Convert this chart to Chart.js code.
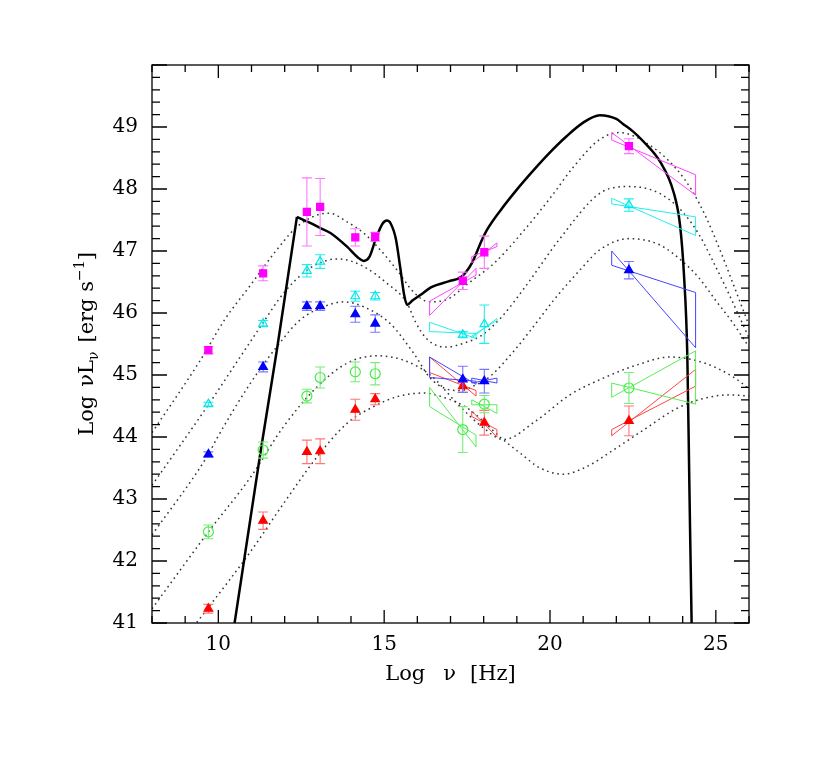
<!DOCTYPE html>
<html><head><meta charset="utf-8">
<script src="https://cdn.jsdelivr.net/npm/chart.js@4.4.1/dist/chart.umd.min.js"></script>
<style>html,body{margin:0;padding:0;background:#fff;}</style>
</head><body>
<canvas id="c" width="817" height="763" style="width:817px;height:763px;display:block"></canvas>
<script>
// ---------- data ----------
const xTickLabels = [10, 15, 20, 25];
const yTickLabels = [41, 42, 43, 44, 45, 46, 47, 48, 49];

const xPts = [9.7, 11.35, 12.67, 13.07, 14.13, 14.73, 17.37, 18.02, 22.38];
const magentaY   = [45.40, 46.64, 47.63, 47.71, 47.22, 47.23, 46.52, 46.98, 48.69];
const magentaErr = [0.06, 0.12, 0.55, 0.46, 0.14, 0.07, 0.14, 0.26, 0.12];
const cyanY      = [44.53, 45.83, 46.68, 46.83, 46.27, 46.27, 45.65, 45.82, 47.74];
const cyanErr    = [0.03, 0.05, 0.10, 0.11, 0.08, 0.06, 0.05, 0.31, 0.10];
const blueY      = [43.72, 45.13, 46.11, 46.11, 45.98, 45.83, 44.93, 44.90, 46.69];
const blueErr    = [0.04, 0.08, 0.07, 0.07, 0.13, 0.14, 0.21, 0.19, 0.14];
const greenY     = [42.47, 43.79, 44.66, 44.96, 45.05, 45.02, 44.12, 44.53, 44.79];
const greenErr   = [0.11, 0.13, 0.11, 0.17, 0.16, 0.18, 0.37, 0.14, 0.25];
const redY       = [41.23, 42.65, 43.76, 43.77, 44.44, 44.61, 44.82, 44.23, 44.26];
const redErr     = [0.07, 0.14, 0.19, 0.20, 0.17, 0.09, 0.10, 0.20, 0.24];

// bow-ties: x ranges, and [leftTop, leftBottom, rightTop, rightBottom]
const bowX = [[16.37, 17.77], [17.64, 18.40], [21.86, 24.39]];
const magentaBow = [[46.19, 45.96, 46.72, 46.61], [46.91, 46.81, 47.13, 47.07], [48.91, 48.79, 48.23, 47.90]];
const cyanBow    = [[45.85, 45.70, 45.67, 45.59], [45.63, 45.60, 45.91, 45.88], [47.85, 47.76, 47.55, 47.25]];
const blueBow    = [[45.29, 44.96, 44.90, 44.85], [44.95, 44.87, 44.95, 44.87], [47.00, 46.77, 46.33, 45.44]];
const greenBow   = [[44.80, 44.49, 44.03, 43.84], [44.60, 44.52, 44.52, 44.38], [44.87, 44.64, 45.39, 44.53]];
const redBow     = [[45.29, 45.04, 44.75, 44.66], [44.42, 44.33, 44.12, 44.00], [44.12, 44.02, 45.09, 44.82]];

// model curves (dotted)
const magentaCurveX = [8.0, 9.46, 10.2, 10.97, 11.72, 12.37, 12.98, 13.35, 13.88, 14.38, 14.88, 15.39, 15.9, 16.35, 16.9, 17.54, 18.35, 19.15, 20.0, 20.7, 21.5, 22.1, 23.0, 23.8, 24.3, 24.7, 25.1, 25.5, 26.0];
const magentaCurveY = [44.07, 45.24, 45.90, 46.45, 46.99, 47.39, 47.58, 47.61, 47.47, 47.29, 47.02, 46.69, 46.33, 46.18, 46.22, 46.48, 46.82, 47.29, 47.85, 48.35, 48.80, 48.91, 48.71, 48.33, 47.96, 47.55, 47.05, 46.50, 45.80];
const cyanCurveX = [8.0, 9.7, 10.67, 11.27, 11.97, 12.67, 13.28, 13.65, 14.38, 15.08, 15.69, 15.95, 16.29, 16.84, 17.44, 17.94, 18.55, 19.25, 20.3, 21.5, 22.4, 23.3, 24.0, 24.5, 24.9, 25.4, 26.0];
const cyanCurveY = [43.22, 44.52, 45.30, 45.78, 46.32, 46.69, 46.85, 46.87, 46.75, 46.48, 46.16, 45.85, 45.58, 45.45, 45.52, 45.64, 45.94, 46.42, 47.20, 47.93, 48.04, 47.93, 47.63, 47.26, 46.85, 46.30, 45.60];
const blueCurveX = [8.0, 9.7, 9.96, 10.97, 11.77, 12.47, 13.17, 13.78, 14.38, 15.18, 15.89, 16.39, 16.85, 17.3, 17.8, 18.2, 18.9, 19.6, 20.1, 21.0, 21.5, 22.4, 23.3, 24.0, 24.5, 25.0, 25.5, 26.0];
const blueCurveY = [42.42, 43.72, 43.98, 44.87, 45.46, 45.89, 46.10, 46.18, 46.10, 45.83, 45.35, 44.95, 44.78, 44.75, 44.85, 44.98, 45.38, 45.85, 46.20, 46.75, 47.02, 47.20, 47.10, 46.83, 46.56, 46.20, 45.85, 45.45];
const greenCurveX = [8.0, 9.7, 10.97, 11.97, 12.98, 13.88, 14.78, 15.58, 16.39, 17.24, 17.94, 18.6, 19.6, 20.6, 21.61, 22.61, 23.62, 24.62, 25.52, 26.0];
const greenCurveY = [41.23, 42.47, 43.35, 44.17, 44.81, 45.19, 45.31, 45.24, 45.00, 44.52, 44.17, 43.96, 44.27, 44.68, 44.95, 45.16, 45.29, 45.20, 44.97, 44.78];
const redCurveX = [9.25, 9.7, 10.97, 11.97, 12.98, 13.88, 14.68, 15.39, 16.2, 16.9, 17.44, 18.0, 18.45, 19.1, 19.7, 20.4, 21.1, 21.91, 22.81, 23.82, 24.62, 25.43, 26.0];
const redCurveY = [40.94, 41.25, 42.15, 42.93, 43.68, 44.22, 44.49, 44.65, 44.71, 44.62, 44.49, 44.25, 44.02, 43.74, 43.50, 43.40, 43.52, 43.79, 44.11, 44.46, 44.62, 44.68, 44.66];

// black solid model (rising edge, then the rest)
const blackRiseX = [10.45, 10.49, 11.27, 11.77, 12.37];
const blackRiseY = [40.85, 41.00, 43.75, 45.42, 47.55];
const blackCurveX = [12.37, 12.7, 13.08, 13.38, 13.88, 14.2, 14.38, 14.55, 14.75, 14.95, 15.08, 15.2, 15.35, 15.48, 15.6, 15.69, 15.85, 16.09, 16.44, 16.94, 17.34, 17.64, 17.95, 18.1, 18.5, 19.0, 19.5, 20.0, 20.5, 21.0, 21.5, 22.0, 22.2, 22.5, 22.81, 23.32, 23.72, 23.92, 24.04, 24.14, 24.2, 24.27, 24.28];
const blackCurveY = [47.55, 47.47, 47.37, 47.29, 47.07, 46.90, 46.84, 46.90, 47.20, 47.44, 47.49, 47.44, 47.20, 46.75, 46.30, 46.13, 46.20, 46.29, 46.42, 46.51, 46.59, 46.80, 47.18, 47.34, 47.65, 47.99, 48.30, 48.59, 48.85, 49.07, 49.19, 49.13, 49.05, 48.93, 48.77, 48.44, 47.96, 47.42, 46.61, 45.32, 43.30, 41.00, 40.80];

// ---------- build datasets ----------
const zipXY = (xs, ys) => xs.map((x, i) => ({x, y: ys[i]}));
const FONT = '"DejaVu Serif", "Liberation Serif", serif';

const series = [
  {y: magentaY, err: magentaErr, bow: magentaBow, curveX: magentaCurveX, curveY: magentaCurveY,
   style: 'rect', fill: '#ff00ff', stroke: '#ff00ff', errColor: '#ff77ff', bowColor: '#ff44ff', r: 5},
  {y: cyanY, err: cyanErr, bow: cyanBow, curveX: cyanCurveX, curveY: cyanCurveY,
   style: 'triangle', fill: 'rgba(0,0,0,0)', stroke: '#00e8e8', errColor: '#22eeee', bowColor: '#22eeee', r: 5},
  {y: blueY, err: blueErr, bow: blueBow, curveX: blueCurveX, curveY: blueCurveY,
   style: 'triangle', fill: '#0000ff', stroke: '#0000ff', errColor: '#7777ff', bowColor: '#4444ff', r: 5},
  {y: greenY, err: greenErr, bow: greenBow, curveX: greenCurveX, curveY: greenCurveY,
   style: 'circle', fill: 'rgba(0,0,0,0)', stroke: '#44ee44', errColor: '#77ee77', bowColor: '#55ee55', r: 5},
  {y: redY, err: redErr, bow: redBow, curveX: redCurveX, curveY: redCurveY,
   style: 'triangle', fill: '#ff0000', stroke: '#ff0000', errColor: '#ff7777', bowColor: '#ff4444', r: 5}
];

const datasets = [];
series.forEach(s => {
  datasets.push({
    data: zipXY(s.curveX, s.curveY), showLine: true, pointRadius: 0,
    borderColor: '#333', borderWidth: 1.5, borderDash: [1.6, 3.7],
    cubicInterpolationMode: 'monotone', order: 6
  });
});
datasets.push({
  data: zipXY(blackRiseX, blackRiseY), showLine: true, pointRadius: 0,
  borderColor: '#000', borderWidth: 2.5, tension: 0, order: 5
});
datasets.push({
  data: zipXY(blackCurveX, blackCurveY), showLine: true, pointRadius: 0,
  borderColor: '#000', borderWidth: 2.5, cubicInterpolationMode: 'monotone', order: 5
});
series.forEach(s => {
  s.bow.forEach((b, k) => {
    const [x1, x2] = bowX[k];
    datasets.push({
      data: [{x: x1, y: b[0]}, {x: x2, y: b[3]}, {x: x2, y: b[2]}, {x: x1, y: b[1]}, {x: x1, y: b[0]}],
      showLine: true, pointRadius: 0, borderColor: s.bowColor, borderWidth: 1, tension: 0, order: 3
    });
  });
});
series.forEach(s => {
  datasets.push({
    data: zipXY(xPts, s.y), showLine: false, pointStyle: s.style, pointRadius: s.r,
    backgroundColor: s.fill, borderColor: s.stroke, borderWidth: 1.2,
    errs: s.err, errColor: s.errColor, order: 1
  });
});

// ---------- plugin: error bars, frame, ticks, axis titles ----------
function drawRich(ctx, parts, cx, cy) {
  let total = 0;
  parts.forEach(p => { ctx.font = p.size + 'px ' + FONT; p.w = ctx.measureText(p.t).width; total += p.w + (p.gap || 0); });
  let x = cx - total / 2;
  parts.forEach(p => {
    ctx.font = p.size + 'px ' + FONT;
    ctx.fillText(p.t, x, cy + (p.dy || 0));
    x += p.w + (p.gap || 0);
  });
}

const sedPlugin = {
  id: 'sed',
  beforeDatasetDraw(chart, args) {
    const ds = chart.data.datasets[args.index];
    if (!ds.errs) return;
    const ctx = chart.ctx, xs = chart.scales.x, ys = chart.scales.y;
    ctx.save();
    ctx.strokeStyle = ds.errColor; ctx.lineWidth = 1.1;
    ds.data.forEach((p, i) => {
      const e = ds.errs[i];
      const px = xs.getPixelForValue(p.x);
      const y1 = ys.getPixelForValue(p.y + e), y2 = ys.getPixelForValue(p.y - e);
      ctx.beginPath();
      ctx.moveTo(px, y1); ctx.lineTo(px, y2);
      ctx.moveTo(px - 5, y1); ctx.lineTo(px + 5, y1);
      ctx.moveTo(px - 5, y2); ctx.lineTo(px + 5, y2);
      ctx.stroke();
    });
    ctx.restore();
  },
  afterDraw(chart) {
    const ctx = chart.ctx, a = chart.chartArea, xs = chart.scales.x, ys = chart.scales.y;
    ctx.save();
    ctx.strokeStyle = '#000'; ctx.lineWidth = 1.3;
    ctx.strokeRect(a.left, a.top, a.right - a.left, a.bottom - a.top);
    ctx.beginPath();
    for (let v = 8; v <= 26; v++) {
      const px = xs.getPixelForValue(v);
      const L = (v % 5 === 0) ? 13 : 7;
      ctx.moveTo(px, a.bottom); ctx.lineTo(px, a.bottom - L);
      ctx.moveTo(px, a.top); ctx.lineTo(px, a.top + L);
    }
    for (let i = 0; i <= 45; i++) {
      const v = 41 + i * 0.2;
      const py = ys.getPixelForValue(v);
      const L = (i % 5 === 0) ? 15 : 8;
      ctx.moveTo(a.left, py); ctx.lineTo(a.left + L, py);
      ctx.moveTo(a.right, py); ctx.lineTo(a.right - L, py);
    }
    ctx.stroke();

    ctx.fillStyle = '#000';
    ctx.textBaseline = 'alphabetic';
    ctx.textAlign = 'left';
    // x title
    drawRich(ctx, [
      {t: 'Log', size: 21, gap: 18},
      {t: 'ν', size: 21, gap: 14},
      {t: '[Hz]', size: 21}
    ], (a.left + a.right) / 2, 680);
    // y title
    ctx.save();
    ctx.translate(93, (a.top + a.bottom) / 2);
    ctx.rotate(-Math.PI / 2);
    drawRich(ctx, [
      {t: 'Log', size: 21, gap: 9},
      {t: 'νL', size: 21},
      {t: 'ν', size: 14, dy: 5, gap: 9},
      {t: '[erg s', size: 21},
      {t: '−1', size: 14, dy: -9},
      {t: ']', size: 21}
    ], 0, 0);
    ctx.restore();
    ctx.restore();
  }
};

new Chart(document.getElementById('c'), {
  type: 'scatter',
  data: {datasets},
  options: {
    responsive: false, animation: false, devicePixelRatio: 1,
    layout: {padding: {left: 0, right: 68, top: 65, bottom: 0}},
    plugins: {legend: {display: false}, tooltip: {enabled: false}},
    scales: {
      x: {
        type: 'linear', min: 8, max: 26,
        afterBuildTicks: s => { s.ticks = xTickLabels.map(v => ({value: v})); },
        afterFit: s => { s.height = 140; },
        ticks: {font: {family: FONT, size: 20}, color: '#000', padding: 10, maxRotation: 0, autoSkip: false},
        grid: {display: false, drawTicks: false}, border: {display: false}
      },
      y: {
        type: 'linear', min: 41, max: 50,
        afterBuildTicks: s => { s.ticks = yTickLabels.map(v => ({value: v})); },
        afterFit: s => { s.width = 152; },
        ticks: {font: {family: FONT, size: 20}, color: '#000', padding: 14, autoSkip: false},
        grid: {display: false, drawTicks: false}, border: {display: false}
      }
    }
  },
  plugins: [sedPlugin]
});
</script>
</body></html>
